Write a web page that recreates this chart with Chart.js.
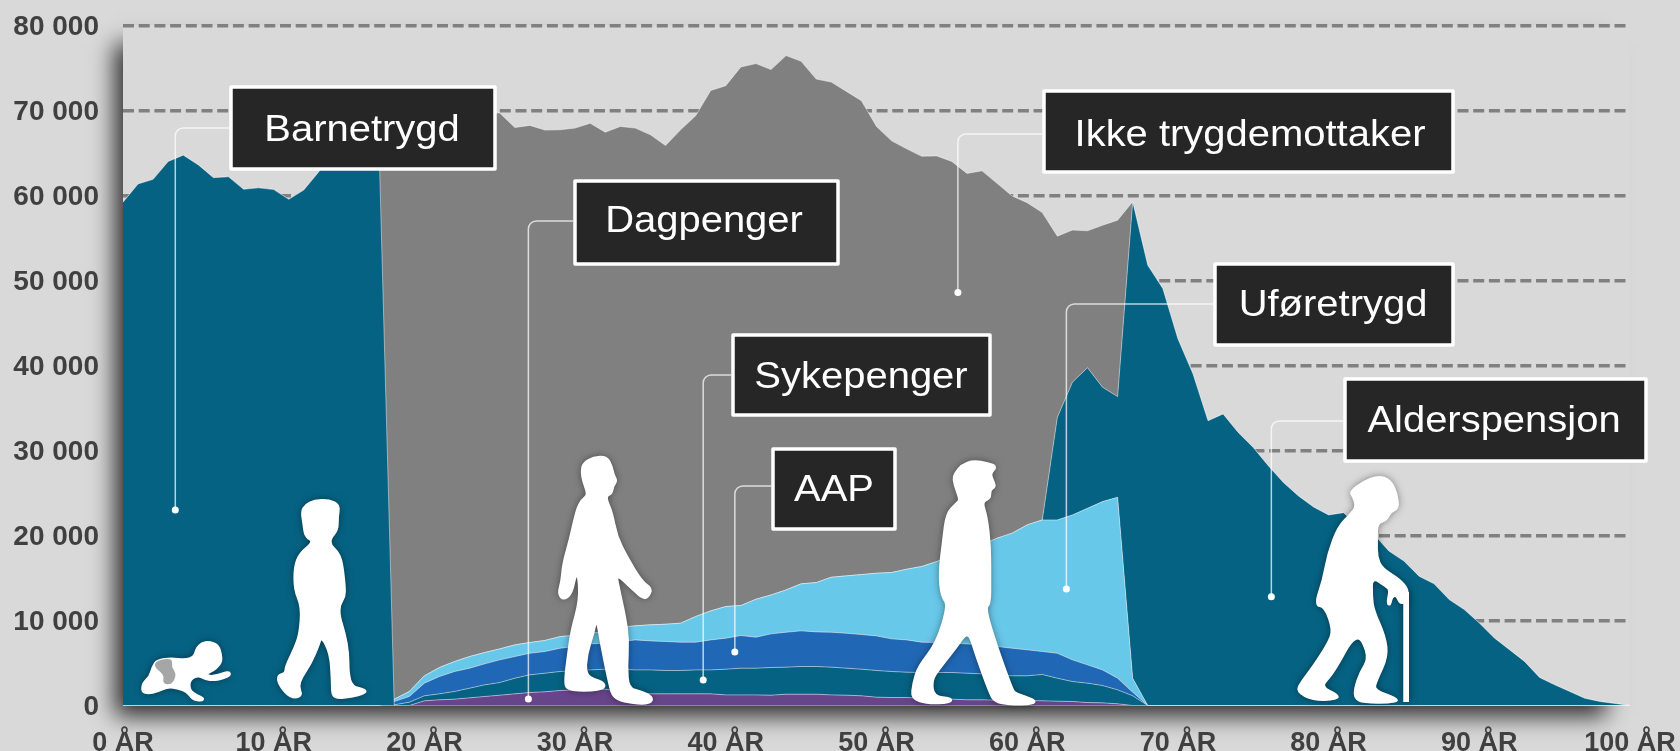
<!DOCTYPE html>
<html lang="no">
<head>
<meta charset="utf-8">
<title>Trygdemottakere etter alder</title>
<script src="https://cdn.jsdelivr.net/npm/chart.js@4"></script>
<style>
  html, body { margin: 0; padding: 0; background: #d9d9d9; overflow: hidden; }
  canvas { display: block; }
</style>
</head>
<body>
<canvas id="chart" width="1680" height="751"></canvas>
<script>
// --- Alder 0-100, ovre kant for hvert lag, lest av bildet ---
const ages = Array.from({ length: 101 }, (_, i) => i);

const barnetrygdTop = [
  59200, 61360, 61900, 64000, 64750, 63600, 62100, 62200, 60730, 60900,
  60700, 59550, 60650, 62800, 65000, 66000, 66000, 65000, 0
];

const dagpengerTop = [
  0, 0, 0, 0, 0, 0, 0, 0, 0, 0, 0, 0, 0, 0, 0, 0, 0, 0,
  0, 0, 550, 670, 745, 900, 1060, 1215, 1370, 1530, 1610, 1760, 1840, 1920,
  1920, 1650, 1530, 1370, 1370, 1370, 1370, 1370, 1250, 1250, 1250, 1215,
  1330, 1330, 1330, 1250, 1215, 1140, 980, 940, 940, 860, 780, 745, 670,
  670, 630, 590, 590, 550, 510, 470, 350, 310, 200, 0,
  0, 0, 0, 0, 0, 0, 0, 0, 0, 0, 0, 0, 0, 0, 0, 0, 0, 0, 0, 0, 0, 0, 0, 0, 0, 0, 0, 0, 0, 0, 0, 0, 0
];

const sykepengerTop = [
  0, 0, 0, 0, 0, 0, 0, 0, 0, 0, 0, 0, 0, 0, 0, 0, 0, 0,
  80, 390, 1140, 1370, 1650, 2040, 2430, 2700, 3210, 3610, 3800, 4000, 4120, 4190,
  4270, 4270, 4190, 4190, 4120, 4120, 4190, 4190, 4270, 4390, 4390, 4470,
  4510, 4590, 4590, 4510, 4390, 4270, 4120, 4000, 3920, 3880, 3880, 3880, 3800,
  3720, 3610, 3490, 3490, 3650, 3210, 2820, 2630, 2350, 1840, 1140,
  0, 0, 0, 0, 0, 0, 0, 0, 0, 0, 0, 0, 0, 0, 0, 0, 0, 0, 0, 0, 0, 0, 0, 0, 0, 0, 0, 0, 0, 0, 0, 0, 0
];

const aapTop = [
  0, 0, 0, 0, 0, 0, 0, 0, 0, 0, 0, 0, 0, 0, 0, 0, 0, 0,
  470, 1060, 2630, 3410, 4000, 4390, 4900, 5370, 5760, 6150, 6350, 6740, 6940, 7250,
  7330, 7530, 7720, 7600, 7530, 7450, 7450, 7720, 7920, 8230, 8040, 8430,
  8620, 8780, 8660, 8620, 8500, 8350, 8190, 7840, 7720, 7450, 7410, 7330, 7250,
  7130, 6940, 6740, 6550, 6350, 6150, 5370, 4780, 4190, 3210, 1570,
  0, 0, 0, 0, 0, 0, 0, 0, 0, 0, 0, 0, 0, 0, 0, 0, 0, 0, 0, 0, 0, 0, 0, 0, 0, 0, 0, 0, 0, 0, 0, 0, 0
];

const uforeTop = [
  0, 0, 0, 0, 0, 0, 0, 0, 0, 0, 0, 0, 0, 0, 0, 0, 0, 0,
  745, 1650, 3490, 4470, 5170, 5760, 6230, 6660, 7130, 7410, 7650, 8100, 8270, 8500,
  8700, 9210, 9370, 9490, 9560, 9680, 10470, 11130, 11640, 11760, 12500, 13000,
  13600, 14310, 14460, 15090, 15250, 15400, 15560, 15640, 16030, 16350, 16930, 17720, 18310,
  18900, 19680, 20270, 21250, 21830, 21830, 22420, 23200, 23990, 24500, 3210,
  0, 0, 0, 0, 0, 0, 0, 0, 0, 0, 0, 0, 0, 0, 0, 0, 0, 0, 0, 0, 0, 0, 0, 0, 0, 0, 0, 0, 0, 0, 0, 0, 0
];

// Alderspensjon ligger over uforetrygd fra 61 ar
const alderTop = uforeTop.slice(0, 62).concat([
  33900, 38030, 39750, 37440, 36340, 59270, 51800, 49050, 43150,
  39020, 33500, 34300, 32130, 30360, 28200, 26230, 24660, 23360, 22420,
  22690, 20920, 20140, 18170, 16990, 15220, 14310, 12470, 11290, 9710,
  7940, 6570, 5190, 3300, 2440, 1650, 860, 470, 240, 0
]);

// Ikke trygdemottaker: totalen, fra 18 til 66 ar
const ikkeTop = barnetrygdTop.slice(0, 18).concat([
  67000, 67500, 68000, 68500, 69000, 69500, 69800, 69700, 68000, 68250, 67700,
  67730, 67930, 68500, 67450, 68120, 67930, 67140, 65880, 67730, 69380, 72360,
  72920, 75120, 75520, 74810, 76460, 75790, 73700, 73340, 72250, 71150, 68120,
  66430, 65490, 64620, 64660, 64000, 62600, 62900, 61430, 59940, 59150, 58000,
  55220, 55930, 55850, 56500, 57100
]).concat(alderTop.slice(67));

const xTickAges = [0, 10, 20, 30, 40, 50, 60, 70, 80, 90, 100];
const yTickLabels = {
  0: '0', 10000: '10 000', 20000: '20 000', 30000: '30 000', 40000: '40 000',
  50000: '50 000', 60000: '60 000', 70000: '70 000', 80000: '80 000'
};

// Merkelapper: boks og strek i piksler, prikken gitt i alder/verdi
const callouts = [
  { text: 'Barnetrygd', box: [229, 85, 497, 171], textX: 362, textY: 131, lineY: 128, age: 3.47, value: 23000 },
  { text: 'Dagpenger', box: [573, 179, 840, 266], textX: 704, textY: 222, lineY: 221, age: 26.9, value: 760 },
  { text: 'Sykepenger', box: [731, 333, 992, 417], textX: 861, textY: 378, lineY: 375, age: 38.5, value: 3000 },
  { text: 'AAP', box: [771, 447, 897, 531], textX: 834, textY: 491, lineY: 486, age: 40.6, value: 6300 },
  { text: 'Ikke trygdemottaker', box: [1042, 89, 1455, 174], textX: 1250, textY: 136, lineY: 134, age: 55.4, value: 48600 },
  { text: 'Uføretrygd', box: [1213, 262, 1455, 347], textX: 1333, textY: 306, lineY: 304, age: 62.6, value: 13700 },
  { text: 'Alderspensjon', box: [1343, 377, 1648, 463], textX: 1494, textY: 422, lineY: 421, age: 76.2, value: 12800 }
];

// Omriss av figurene, punkter i utsnittskoordinater [x, y], med opphav og skala
const figures = [
  { ox: 0, oy: 400, sx: 2.8, sy: 3, pts: [[585,725],[610,735],[618,760],[620,785],[605,805],[590,815],[575,822],[590,830],[610,825],[640,815],[645,825],[625,835],[600,840],[575,838],[555,825],[530,840],[530,870],[548,885],[570,895],[565,902],[540,898],[525,875],[500,865],[470,860],[440,875],[415,880],[398,875],[400,850],[420,830],[428,800],[440,780],[480,775],[520,780],[545,770],[550,745],[565,730]] },
  { ox: 0, oy: 400, sx: 2.8, sy: 3, pts: [[880,302],[920,300],[950,315],[945,350],[945,390],[925,415],[925,435],[945,455],[955,480],[960,510],[965,560],[965,590],[950,615],[950,650],[965,700],[975,760],[975,820],[985,860],[1025,870],[1020,880],[985,890],[940,895],[930,880],[930,840],[925,760],[900,708],[890,740],[870,790],[845,830],[835,860],[845,885],[825,895],[800,880],[778,845],[780,825],[800,820],[800,800],[825,745],[840,700],[845,620],[825,570],[825,500],[840,460],[880,425],[855,410],[850,370],[845,335],[855,315]] },
  { ox: 380, oy: 440, sx: 3, sy: 3, pts: [[610,70],[640,52],[680,50],[695,80],[700,105],[710,122],[698,140],[695,160],[675,170],[695,215],[710,290],[740,350],[785,425],[815,445],[805,470],[790,475],[760,450],[708,400],[715,440],[735,530],[745,600],[740,680],[745,745],[785,755],[815,770],[815,785],[790,792],[730,785],[700,770],[690,740],[665,620],[650,530],[640,580],[620,640],[615,710],[670,725],[675,745],[630,752],[560,750],[555,720],[565,640],[575,570],[600,480],[595,400],[585,410],[575,460],[550,480],[535,460],[545,425],[550,370],[570,300],[590,210],[605,180],[625,165],[610,125],[605,95]] },
  { ox: 780, oy: 440, sx: 3, sy: 3, pts: [[525,100],[545,75],[580,62],[625,70],[650,80],[630,100],[640,125],[645,140],[630,150],[630,175],[605,185],[620,230],[630,320],[630,420],[630,490],[615,505],[650,620],[695,745],[705,760],[765,780],[760,792],[690,793],[645,785],[630,760],[590,650],[565,570],[530,620],[475,690],[455,720],[460,770],[515,775],[510,788],[440,790],[395,775],[400,730],[415,680],[470,610],[505,495],[485,470],[478,400],[490,300],[500,220],[530,190],[540,180],[530,150],[520,120]] },
  { ox: 1200, oy: 440, sx: 3, sy: 3, pts: [[450,155],[490,125],[535,108],[570,120],[590,160],[595,205],[570,215],[560,240],[530,250],[530,300],[530,350],[545,385],[600,420],[625,450],[618,485],[600,490],[590,465],[575,470],[570,495],[562,490],[570,450],[560,440],[515,410],[515,470],[520,510],[555,590],[562,650],[530,720],[520,750],[590,775],[590,787],[490,788],[465,775],[465,745],[480,700],[510,650],[470,570],[400,700],[360,740],[415,765],[410,778],[340,780],[290,755],[305,725],[340,680],[385,610],[400,570],[375,500],[345,495],[370,420],[385,340],[415,260],[450,225],[470,200],[460,170]] }
];
const diaper = { ox: 0, oy: 400, sx: 2.8, sy: 3, pts: [[430,800],[440,780],[483,775],[480,800],[495,825],[480,855],[455,850],[460,825]] };
const cane = [1403.5, 592, 5.5, 110];

// Runder av omrisset med kurver gjennom midtpunktene
function tracePts(ctx, fig) {
  const pts = fig.pts.map(p => [fig.ox + p[0] / fig.sx, fig.oy + p[1] / fig.sy]);
  const mid = (a, b) => [(a[0] + b[0]) / 2, (a[1] + b[1]) / 2];
  const start = mid(pts[pts.length - 1], pts[0]);
  ctx.beginPath();
  ctx.moveTo(start[0], start[1]);
  pts.forEach((p, i) => {
    const m = mid(p, pts[(i + 1) % pts.length]);
    ctx.quadraticCurveTo(p[0], p[1], m[0], m[1]);
  });
  ctx.closePath();
}

// Skygge bak plottflaten, bare mot venstre og nedover
const plotShadow = {
  id: 'plotShadow',
  beforeDraw(chart) {
    const { ctx, chartArea: a } = chart;
    const far = 4000;
    ctx.save();
    ctx.fillStyle = '#000';
    ctx.shadowColor = 'rgba(0,0,0,0.8)';
    ctx.shadowBlur = 22;
    ctx.shadowOffsetX = far;
    ctx.shadowOffsetY = 0;
    ctx.fillRect(a.left - 8 - far, a.top + 18, a.right - a.left - 16, a.bottom - a.top - 8);
    ctx.restore();
    ctx.fillStyle = '#d9d9d9';
    ctx.fillRect(a.left, a.top, a.right - a.left, a.bottom - a.top);

    // y-etikettene star litt lavere enn midt pa linja
    if (!chart.$labelsMoved) {
      chart.scales.y.getLabelItems(a).forEach(item => { item.options.translation[1] += 2; });
      chart.$labelsMoved = true;
    }
  }
};

// Figurer og merkelapper oppa arealene
const overlays = {
  id: 'overlays',
  afterDatasetsDraw(chart) {
    const { ctx, scales } = chart;
    ctx.save();
    ctx.lineJoin = 'round';

    // Forst med skygge, sa en gang til uten, sa skyggen ikke havner inni figuren
    ctx.fillStyle = '#ffffff';
    ctx.strokeStyle = '#ffffff';
    ctx.lineWidth = 2.5;
    ctx.shadowColor = 'rgba(0,0,0,0.55)';
    ctx.shadowBlur = 8;
    figures.forEach(fig => { tracePts(ctx, fig); ctx.fill(); });
    ctx.fillRect(cane[0], cane[1], cane[2], cane[3]);
    ctx.shadowColor = 'rgba(0,0,0,0)';
    ctx.shadowBlur = 0;
    figures.forEach(fig => { tracePts(ctx, fig); ctx.fill(); ctx.stroke(); });
    ctx.fillRect(cane[0], cane[1], cane[2], cane[3]);

    ctx.fillStyle = '#a6a6a6';
    tracePts(ctx, diaper);
    ctx.fill();

    callouts.forEach(c => {
      const dotX = scales.x.getPixelForValue(c.age);
      const dotY = scales.y.getPixelForValue(c.value);
      ctx.strokeStyle = 'rgba(255,255,255,0.72)';
      ctx.lineWidth = 1.5;
      ctx.beginPath();
      ctx.moveTo(c.box[0], c.lineY);
      ctx.arcTo(dotX, c.lineY, dotX, dotY, 8);
      ctx.lineTo(dotX, dotY);
      ctx.stroke();
      ctx.fillStyle = '#ffffff';
      ctx.beginPath();
      ctx.arc(dotX, dotY, 3.5, 0, Math.PI * 2);
      ctx.fill();

      ctx.fillStyle = '#262626';
      ctx.strokeStyle = '#ffffff';
      ctx.lineWidth = 3.5;
      ctx.beginPath();
      ctx.rect(c.box[0] + 2, c.box[1] + 2, c.box[2] - c.box[0] - 4, c.box[3] - c.box[1] - 4);
      ctx.fill();
      ctx.stroke();

      ctx.fillStyle = '#ffffff';
      ctx.font = '37px "Liberation Sans"';
      ctx.textAlign = 'center';
      ctx.textBaseline = 'middle';
      ctx.save();
      ctx.translate(c.textX, c.textY);
      ctx.scale(1.08, 1);
      ctx.fillText(c.text, 0, 0);
      ctx.restore();
    });
    ctx.restore();
  }
};

const edge = 'rgba(255,255,255,0.45)';
function layer(label, data, color, fill) {
  return {
    label, data, fill,
    backgroundColor: color,
    borderColor: edge,
    borderWidth: 1,
    pointRadius: 0,
    tension: 0
  };
}

// Skalaene skal ikke legge til egen luft rundt plottflaten
function noPadding(scale) {
  scale.paddingLeft = scale.paddingRight = scale.paddingTop = scale.paddingBottom = 0;
}

new Chart(document.getElementById('chart'), {
  type: 'line',
  data: {
    labels: ages,
    datasets: [
      layer('Barnetrygd', barnetrygdTop, '#066283', 'origin'),
      layer('Dagpenger', dagpengerTop, '#67458a', 'origin'),
      layer('Sykepenger', sykepengerTop, '#066283', '-1'),
      layer('AAP', aapTop, '#2068b5', '-1'),
      layer('Uføretrygd', uforeTop, '#68c8ea', '-1'),
      layer('Alderspensjon', alderTop, '#066283', '-1'),
      layer('Ikke trygdemottaker', ikkeTop, '#808080', '-1')
    ]
  },
  plugins: [plotShadow, overlays],
  options: {
    responsive: false,
    animation: false,
    layout: { padding: { left: 0, right: 50, top: 25.5, bottom: 0 } },
    plugins: { legend: { display: false }, tooltip: { enabled: false } },
    scales: {
      x: {
        grid: { display: false },
        border: { display: false },
        afterFit(scale) { scale.height = 45.5; noPadding(scale); },
        ticks: {
          autoSkip: false,
          maxRotation: 0,
          minRotation: 0,
          padding: 14,
          color: '#404040',
          font: { family: '"Liberation Sans"', size: 27, weight: 'bold' },
          callback(value) {
            const age = this.getLabelForValue(value);
            return xTickAges.includes(age) ? age + ' ÅR' : null;
          }
        }
      },
      y: {
        min: 0,
        max: 80000,
        afterFit(scale) { scale.width = 123; noPadding(scale); },
        border: { display: false, dash: [11, 4.7] },
        grid: {
          drawTicks: false,
          lineWidth: 3.5,
          color: ctx => (ctx.tick.value === 0 ? 'rgba(0,0,0,0)' : '#808080')
        },
        ticks: {
          stepSize: 10000,
          padding: 24,
          color: '#404040',
          font: { family: '"Liberation Sans"', size: 28, weight: 'bold' },
          callback: value => yTickLabels[value]
        }
      }
    }
  }
});
</script>
</body>
</html>
